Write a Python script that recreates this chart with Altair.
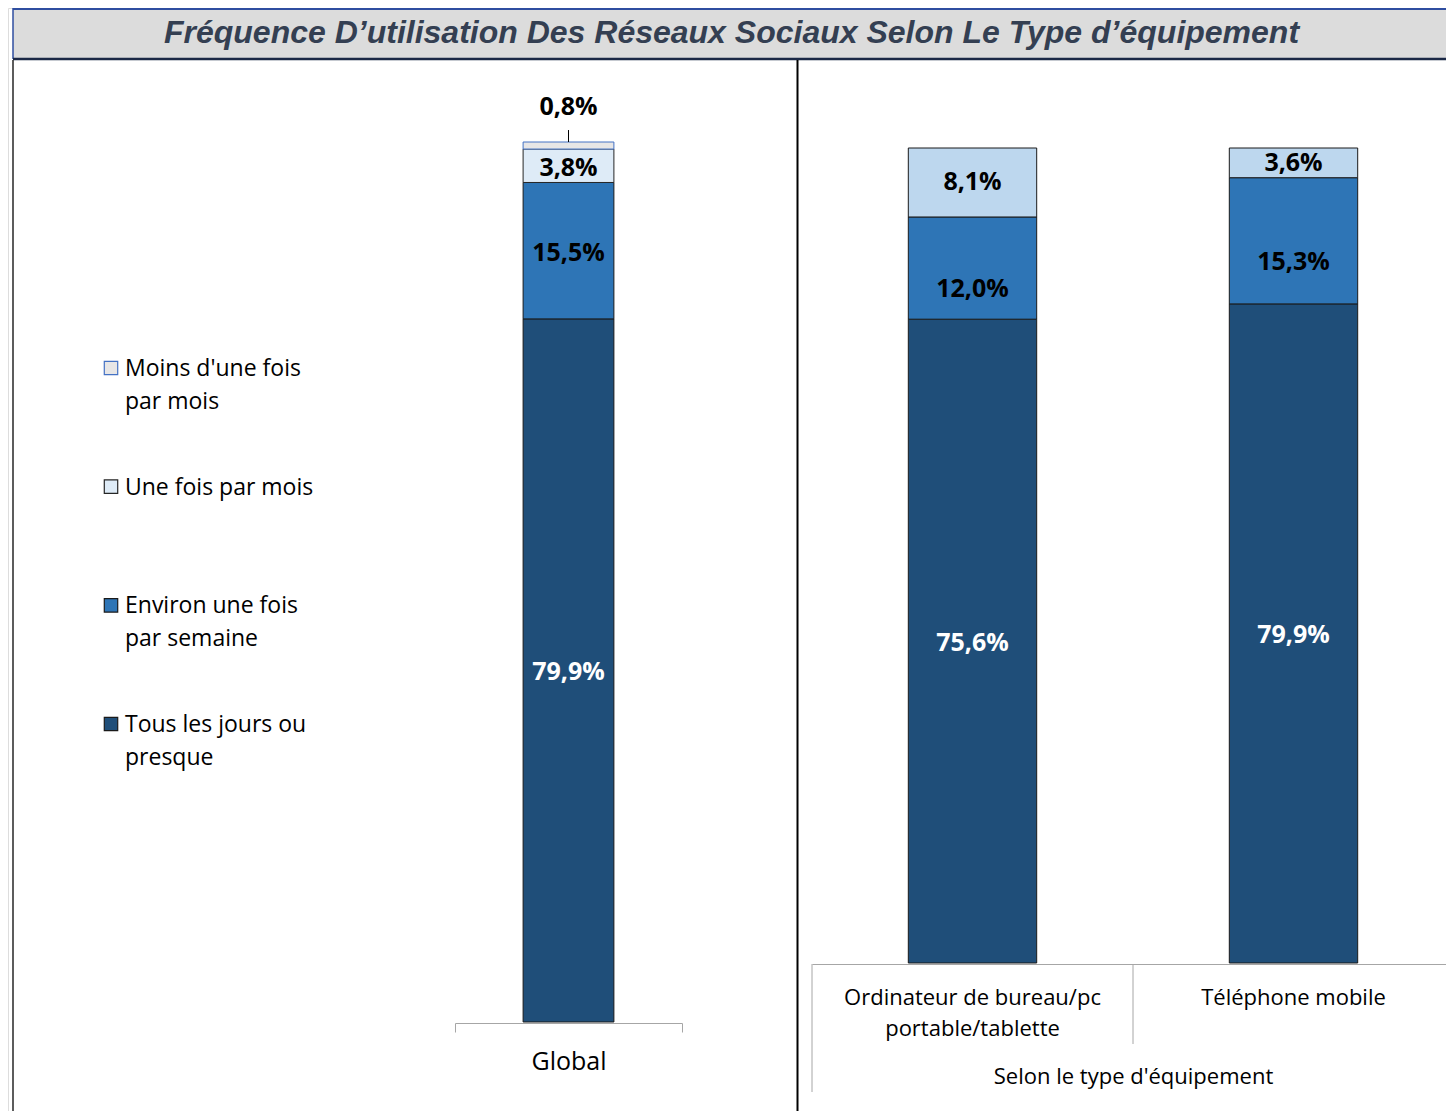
import altair as alt
import pandas as pd

# ---------------- data ----------------
title_text = "Fréquence D’utilisation Des Réseaux Sociaux Selon Le Type d’équipement"
categories = ["Tous les jours ou presque", "Environ une fois par semaine",
              "Une fois par mois", "Moins d'une fois par mois"]
stack_order = [0, 1, 2, 3]
global_group = ["Global"]
global_values = [79.9, 15.5, 3.8, 0.8]

equip_groups = ["Ordinateur de bureau/pc|portable/tablette", "Téléphone mobile"]
equip_title = "Selon le type d'équipement"
ordi_values = [75.6, 12.0, 8.1]
mobile_values = [79.9, 15.3, 3.6]

legend_order = ["Moins d'une fois par mois", "Une fois par mois",
                "Environ une fois par semaine", "Tous les jours ou presque"]
legend_labels = ["Moins d'une fois|par mois", "Une fois par mois",
                 "Environ une fois|par semaine", "Tous les jours ou|presque"]

left_fill = ["#1F4E79", "#2E75B6", "#DEEBF7", "#E7E6E6"]
left_stroke = ["#1A1A1A", "#1A1A1A", "#262626", "#4472C4"]
right_fill = ["#1F4E79", "#2E75B6", "#BDD7EE"]
right_stroke = ["#1A1A1A", "#1A1A1A", "#1A1A1A"]

FONT = "Open Sans"

gdf = pd.DataFrame({"grp": global_group * 4, "cat": categories,
                    "value": global_values, "ord": stack_order})
rows = []
for g, vals in zip(equip_groups, [ordi_values, mobile_values]):
    for c, v, o in zip(categories[:3], vals, stack_order[:3]):
        rows.append({"grp": g, "cat": c, "value": v, "ord": o})
rdf = pd.DataFrame(rows)
ldf = pd.DataFrame({"cat": legend_order, "label": legend_labels})
one = pd.DataFrame({"d": [0]})

# ---------------- decoration ----------------
base = alt.Chart(one)
title_rect = base.mark_rect(fill="#DCDCDC").encode(
    x=alt.value(5), x2=alt.value(1446), y=alt.value(0), y2=alt.value(51))
title_top = base.mark_rule(color="#2F4EA0", strokeWidth=2).encode(
    x=alt.value(5), x2=alt.value(1446), y=alt.value(1))
title_left = base.mark_rule(color="#2F4EA0", strokeWidth=1.5).encode(
    x=alt.value(5), y=alt.value(0), y2=alt.value(51))
title_bottom = base.mark_rule(color="#1B2846", strokeWidth=2.5).encode(
    x=alt.value(5), x2=alt.value(1446), y=alt.value(51))
title_txt = base.mark_text(text=title_text, font="Liberation Sans", fontSize=32,
                           fontWeight="bold", fontStyle="italic", color="#343F52",
                           align="center", baseline="middle").encode(
    x=alt.value(723.5), y=alt.value(25))
left_border = base.mark_rule(color="#262626", strokeWidth=1.5).encode(
    x=alt.value(5), y=alt.value(52), y2=alt.value(1103))
divider = base.mark_rule(color="#000000", strokeWidth=2).encode(
    x=alt.value(789.5), y=alt.value(52), y2=alt.value(1103))

lab_expr = "replace(format(datum.value, '.1f'), '.', ',') + '%'"
val_font = dict(font=FONT, fontSize=25, fontWeight="bold", baseline="middle", align="center")

# ---------------- left panel: Global ----------------
xg = alt.X("grp:N",
           scale=alt.Scale(domain=global_group, range=[447, 674], paddingInner=0, paddingOuter=0),
           axis=alt.Axis(orient="bottom", offset=-88, title=None, domainColor="#A6A6A6",
                         tickColor="#A6A6A6", tickSize=9, tickBand="extent",
                         labelFont=FONT, labelFontSize=25, labelColor="black", labelAngle=0,
                         labelPadding=29, labelBaseline="middle", grid=False))
ys_g = alt.Scale(domain=[0, 1], range=[1014, 134], nice=False, zero=False)

g_bars = alt.Chart(gdf).mark_bar(width=alt.RelativeBandSize(0.4), strokeWidth=1).encode(
    x=xg,
    y=alt.Y("value:Q", stack="normalize", scale=ys_g, axis=None),
    fill=alt.Fill("cat:N", scale=alt.Scale(domain=categories, range=left_fill), legend=None),
    stroke=alt.Stroke("cat:N", scale=alt.Scale(domain=categories, range=left_stroke), legend=None),
    order=alt.Order("ord:Q"))

g_base = alt.Chart(gdf).transform_stack(
    stack="value", groupby=["grp"], sort=[alt.SortField("ord", order="ascending")],
    as_=["v0", "v1"], offset="normalize").transform_calculate(
    mid="(datum.v0 + datum.v1) / 2", lab=lab_expr, top="datum.v1 + 0.0136")

g_t_dark = g_base.transform_filter("datum.ord == 0").mark_text(color="white", dy=2, **val_font).encode(
    x=xg, y=alt.Y("mid:Q", scale=ys_g, axis=None), text="lab:N")
g_t_mid = g_base.transform_filter("datum.ord == 1 || datum.ord == 2").mark_text(
    color="black", dy=2, **val_font).encode(
    x=xg, y=alt.Y("mid:Q", scale=ys_g, axis=None), text="lab:N")
g_t_top = g_base.transform_filter("datum.ord == 3").mark_text(
    color="black", dy=-35, **val_font).encode(
    x=xg, y=alt.Y("v1:Q", scale=ys_g, axis=None), text="lab:N")
g_leader = g_base.transform_filter("datum.ord == 3").mark_rule(color="black", strokeWidth=1).encode(
    x=xg, y=alt.Y("v1:Q", scale=ys_g, axis=None), y2="top:Q")

left = alt.layer(g_bars, g_t_dark, g_t_mid, g_t_top, g_leader)

# ---------------- right panel: by equipment ----------------
xr_scale = alt.Scale(domain=equip_groups, range=[804, 1446], paddingInner=0, paddingOuter=0)
xr_axis = alt.Axis(orient="bottom", offset=-147, title=equip_title, domainColor="#A6A6A6",
                   ticks=False, labelExpr="split(datum.label, '|')", labelFont=FONT,
                   labelFontSize=22, labelLineHeight=31, labelColor="black", labelAngle=0,
                   labelPadding=23, labelBaseline="top", labelLimit=500,
                   titleFont=FONT, titleFontSize=22, titleFontWeight="normal",
                   titleColor="black", titlePadding=27, grid=False)
xr = alt.X("grp:N", scale=xr_scale, axis=xr_axis)
ys_r = alt.Scale(domain=[0, 1], range=[955, 140], nice=False, zero=False)

r_bars = alt.Chart(rdf).mark_bar(width=alt.RelativeBandSize(0.4), strokeWidth=1).encode(
    x=xr,
    y=alt.Y("value:Q", stack="normalize", scale=ys_r, axis=None),
    fill=alt.Fill("cat:N", scale=alt.Scale(domain=categories[:3], range=right_fill), legend=None),
    stroke=alt.Stroke("cat:N", scale=alt.Scale(domain=categories[:3], range=right_stroke), legend=None),
    order=alt.Order("ord:Q"))

r_base = alt.Chart(rdf).transform_stack(
    stack="value", groupby=["grp"], sort=[alt.SortField("ord", order="ascending")],
    as_=["v0", "v1"], offset="normalize").transform_calculate(
    mid="(datum.v0 + datum.v1) / 2", lab=lab_expr)

r_t_dark = r_base.transform_filter("datum.ord == 0").mark_text(color="white", dy=2, **val_font).encode(
    x=xr, y=alt.Y("mid:Q", scale=ys_r, axis=None), text="lab:N")
r_t_mid = r_base.transform_filter("datum.ord == 1").mark_text(color="black", dy=21, **val_font).encode(
    x=xr, y=alt.Y("mid:Q", scale=ys_r, axis=None), text="lab:N")
r_t_light = r_base.transform_filter("datum.ord == 2").mark_text(color="black", dy=0, **val_font).encode(
    x=xr, y=alt.Y("mid:Q", scale=ys_r, axis=None), text="lab:N")

gdiv = pd.DataFrame({"grp": equip_groups})
r_div1 = alt.Chart(gdiv).transform_filter(alt.datum.grp == equip_groups[0]).mark_rule(
    color="#A6A6A6", strokeWidth=1).encode(
    x=alt.X("grp:N", bandPosition=0, scale=xr_scale, axis=xr_axis),
    y=alt.value(956), y2=alt.value(1084))
r_div2 = alt.Chart(gdiv).transform_filter(alt.datum.grp == equip_groups[1]).mark_rule(
    color="#A6A6A6", strokeWidth=1).encode(
    x=alt.X("grp:N", bandPosition=0, scale=xr_scale, axis=xr_axis),
    y=alt.value(956), y2=alt.value(1036))

right = alt.layer(r_bars, r_t_dark, r_t_mid, r_t_light, r_div1, r_div2)

# ---------------- legend ----------------
ly = alt.Y("cat:N", scale=alt.Scale(type="point", domain=legend_order, range=[360, 716], padding=0),
           axis=None)
leg_sq = alt.Chart(ldf).mark_square(size=180, strokeWidth=1.2, opacity=1).encode(
    x=alt.value(103), y=ly,
    fill=alt.Fill("cat:N", scale=alt.Scale(domain=categories, range=left_fill), legend=None),
    stroke=alt.Stroke("cat:N", scale=alt.Scale(domain=categories, range=left_stroke), legend=None))
leg_txt = alt.Chart(ldf).transform_calculate(lines="split(datum.label, '|')").mark_text(
    align="left", baseline="alphabetic", dy=8, font=FONT, fontSize=23, lineHeight=33,
    color="black").encode(x=alt.value(117), y=ly, text="lines:N")
legend = alt.layer(leg_sq, leg_txt)

chart = alt.layer(
    title_rect, title_top, title_left, title_bottom, title_txt, left_border, divider,
    left, right, legend
).resolve_scale(
    x="independent", y="independent", fill="independent", stroke="independent"
).properties(
    width=1438, height=1103, padding=0,
    autosize=alt.AutoSizeParams(type="none")
).configure_view(strokeWidth=0).configure(background="white")

chart.save("out.html", embed_options={"renderer": "svg", "actions": False})
